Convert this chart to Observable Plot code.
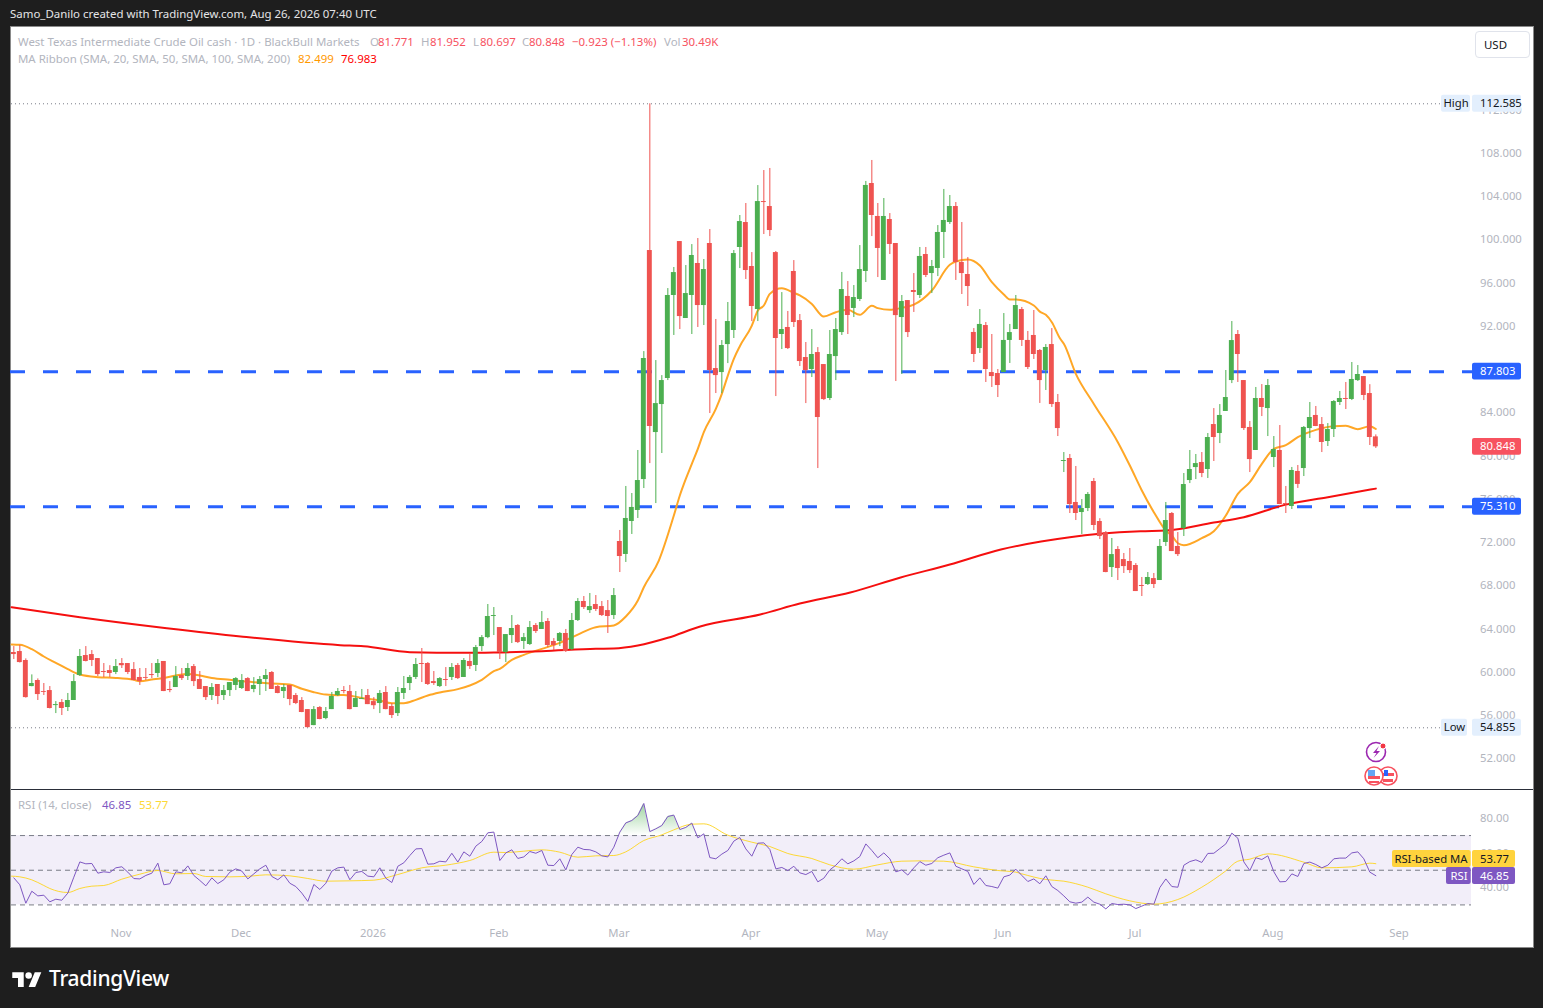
<!DOCTYPE html>
<html><head><meta charset="utf-8">
<script src="https://cdn.jsdelivr.net/npm/d3@7"></script>
<script src="https://cdn.jsdelivr.net/npm/@observablehq/plot@0.6"></script>
<style>
html,body{margin:0;padding:0;background:#1e1e1e;width:1543px;height:1008px;overflow:hidden;font-family:"Noto Sans",sans-serif}
#panel{position:absolute;left:10px;top:26px;width:1522px;height:920px;background:#fff;border:1px solid #8a8a8a}
.t{position:absolute;white-space:nowrap;font-size:11.45px;line-height:14px;color:#b2b5be}
.r{color:#f7525f}
svg{position:absolute;overflow:visible}
#main{position:absolute;left:11px;top:27px;width:1521px;height:762px}
#rsi{position:absolute;left:11px;top:790px;width:1521px;height:157px}
#sep{position:absolute;left:11px;top:789px;width:1522px;height:1px;background:#2a2e39}
</style></head><body>
<div id="panel"></div>
<div id="main"></div><div id="sep"></div><div id="rsi"></div>
<div class="t" style="left:10px;top:7px;color:#e4e4e6">Samo_Danilo created with TradingView.com, Aug 26, 2026 07:40 UTC</div>
<div class="t" style="left:18px;top:35px">West Texas Intermediate Crude Oil cash · 1D · BlackBull Markets</div>
<div class="t" style="left:370px;top:35px">O</div><div class="t r" style="left:378px;top:35px">81.771</div>
<div class="t" style="left:421px;top:35px">H</div><div class="t r" style="left:430px;top:35px">81.952</div>
<div class="t" style="left:473px;top:35px">L</div><div class="t r" style="left:480px;top:35px">80.697</div>
<div class="t" style="left:522px;top:35px">C</div><div class="t r" style="left:529px;top:35px">80.848</div>
<div class="t r" style="left:572px;top:35px">−0.923 (−1.13%)</div>
<div class="t" style="left:664px;top:35px">Vol</div><div class="t r" style="left:682px;top:35px">30.49K</div>
<div class="t" style="left:18px;top:52px">MA Ribbon (SMA, 20, SMA, 50, SMA, 100, SMA, 200)</div>
<div class="t" style="left:298px;top:52px;color:#ff9800">82.499</div>
<div class="t" style="left:341px;top:52px;color:#f00">76.983</div>
<div class="t" style="left:18px;top:798px">RSI (14, close)</div>
<div class="t" style="left:102px;top:798px;color:#7e57c2">46.85</div>
<div class="t" style="left:139px;top:798px;color:#fdd835">53.77</div>
<div class="t" style="left:1475px;top:31px;width:53px;height:25px;border:1px solid #e0e3eb;border-radius:4px;color:#131722;line-height:26px;box-sizing:content-box;text-indent:8px">USD</div>
<svg style="left:1360px;top:738px" width="42" height="50" viewBox="0 0 42 50">
 <circle cx="16" cy="14" r="9.5" fill="#fff" stroke="#9c27b0" stroke-width="1.6"/>
 <path d="M19 8l-6 7h3.5l-3 5 6.5-7h-3.5z" fill="#9c27b0"/><circle cx="23" cy="8" r="3" fill="#f23645" stroke="#fff"/>
 <g><circle cx="28" cy="38" r="9" fill="#fff" stroke="#f7525f" stroke-width="1.6"/><rect x="22" y="35" width="12" height="3" fill="#f7525f"/><rect x="23" y="41" width="10" height="3" fill="#f7525f"/><rect x="24" y="32" width="4" height="6" fill="#2962ff"/></g>
 <g><circle cx="14" cy="38" r="9" fill="#fff" stroke="#f7525f" stroke-width="1.6"/><rect x="8" y="38" width="12" height="3" fill="#f7525f"/><rect x="9" y="43" width="10" height="2" fill="#f7525f"/><rect x="8" y="32" width="7" height="6" fill="#64a5f5"/></g>
</svg>
<svg style="left:12px;top:969px" width="30" height="18" viewBox="0 0 36 22"><path fill="#fff" d="M14 22H7V11H0V4h14v18zM28 22h-8l7.5-18h8L28 22z"/><circle fill="#fff" cx="20" cy="8" r="4"/></svg>
<div style="position:absolute;left:49px;top:964px;font:500 21px/28px 'Noto Sans',sans-serif;color:#fff;letter-spacing:-.3px">TradingView</div>
<script>
// daily candles
const opens=[61.82,61.91,61.08,58.67,59.23,58.2,58.3,56.91,57.19,56.73,
57.38,59.69,61.54,61.63,61.26,60.06,60.15,59.97,60.8,60.8,
60.25,59.51,59.51,59.78,59.88,60.99,58.4,58.58,59.69,59.6,
60.52,59.32,58.67,57.84,58.86,57.84,58.3,58.77,58.49,59.41,
58.4,58.86,59.32,59.97,58.67,58.21,58.77,57.84,57.38,56.54,
55.06,56.73,55.71,56.54,57.84,58.3,58.21,56.73,57.47,57.84,
57.28,57.1,58.12,56.82,56.17,58.03,58.95,59.51,60.8,60.8,
59.13,58.67,59.32,59.51,60.62,59.51,60.99,60.62,62.37,63.2,
65.15,64.13,61.82,63.39,64.32,62.84,62.56,64.32,63.95,64.69,
62.84,62.84,63.58,62.1,64.78,66.54,65.7,66.26,66.07,65.7,
65.24,72.09,70.89,73.94,74.96,77.82,99.01,82.17,84.76,87.17,
94.85,99.84,92.72,94.85,97.81,93.92,99.66,88.09,87.72,90.31,
91.61,99.29,101.6,97.53,93.55,103.54,103.08,98.82,91.24,91.89,
97.07,92.53,89.11,88.0,89.57,88.46,85.32,89.2,91.42,94.76,
93.65,94.48,97.07,105.21,102.16,96.24,101.88,99.66,92.81,94.38,
95.31,94.85,98.64,96.88,97.35,100.68,101.6,103.08,97.9,96.79,
91.43,89.94,92.07,87.72,87.63,87.72,90.69,91.7,93.55,90.69,
91.15,89.76,87.91,90.31,84.95,79.49,79.77,75.7,74.77,75.14,
77.64,73.94,72.92,69.68,71.35,70.42,70.24,69.87,68.02,68.11,
68.66,68.48,72.0,74.68,71.63,73.29,77.73,78.93,79.4,78.75,
82.91,82.08,84.12,86.98,91.24,86.98,82.64,80.51,85.32,84.39,
79.86,80.51,75.6,75.33,78.57,78.84,82.54,83.75,82.91,81.34,
82.45,84.95,85.32,85.23,86.98,87.35,85.78,81.771];
const highs=[62.37,62.47,61.23,59.75,59.38,58.95,58.67,57.28,57.47,58.03,
59.78,62.1,62.37,62.0,61.26,60.8,60.6,61.17,61.26,60.8,
60.89,60.34,60.34,60.8,61.17,60.99,59.13,60.52,60.34,60.8,
60.71,60.06,58.67,58.95,58.86,58.77,59.04,59.5,59.78,59.5,
59.5,59.6,60.25,60.06,58.77,58.86,58.77,58.03,57.65,56.54,
56.82,56.82,56.73,58.12,58.49,58.67,58.77,58.21,58.4,58.4,
57.65,58.3,58.67,57.1,58.58,59.6,59.69,61.26,62.19,60.89,
60.06,59.5,60.43,60.8,60.8,61.26,61.63,62.47,63.39,66.26,
65.98,64.13,63.48,65.24,64.41,63.58,64.69,64.5,65.61,64.96,
63.11,63.67,63.95,65.43,66.81,67.0,67.28,67.09,66.54,66.63,
67.74,73.11,77.18,76.53,80.51,89.66,112.585,88.83,87.44,95.49,
97.44,99.84,97.62,99.56,100.12,98.18,100.95,92.63,90.68,94.2,
99.01,102.25,103.36,98.82,105.02,106.41,106.6,98.92,95.12,93.37,
98.08,93.09,90.5,91.7,90.03,88.46,91.61,92.72,96.98,96.14,
95.77,99.47,105.4,107.34,103.36,103.82,102.43,99.66,94.85,94.38,
96.88,99.29,99.29,98.09,101.32,104.66,104.1,103.45,101.6,98.36,
91.79,93.55,92.35,91.24,88.0,93.18,92.17,94.85,93.74,91.52,
93.46,89.85,90.31,91.79,85.69,80.32,80.14,79.03,75.97,76.62,
77.92,74.2,73.01,72.37,71.62,70.98,71.44,70.05,68.76,69.22,
69.13,72.27,75.7,74.77,72.92,78.38,80.51,80.14,80.32,82.08,
84.39,84.76,87.91,92.44,91.61,86.98,83.19,86.34,86.61,87.08,
81.8,82.82,77.18,78.94,79.12,82.73,84.95,84.58,83.56,83.0,
85.13,85.97,86.8,88.65,88.37,87.35,86.6,81.952];
const lows=[61.17,60.85,57.6,58.65,57.38,57.84,56.6,56.17,55.99,56.36,
57.38,59.6,60.95,60.52,59.6,59.5,59.5,59.78,60.34,59.78,
59.2,58.77,59.23,59.41,59.5,58.2,58.1,58.58,59.23,59.23,
58.67,58.4,57.38,57.38,57.0,57.38,57.75,58.3,58.4,58.2,
58.1,57.84,58.21,58.4,58.0,57.56,56.9,57.0,56.25,54.855,
55.05,55.6,55.6,56.54,57.75,58.0,56.52,56.73,57.47,57.0,
56.54,56.17,56.52,55.71,55.9,57.47,58.3,59.32,59.04,58.77,
58.77,58.58,58.67,59.23,59.32,59.51,60.25,60.06,61.91,63.1,
63.39,61.17,60.89,62.65,62.65,62.1,62.47,63.58,63.95,62.28,
62.0,62.37,61.82,62.0,64.69,65.8,65.43,65.61,65.15,63.58,
64.87,69.22,70.15,72.74,74.22,76.99,79.3,75.6,80.23,86.98,
91.15,91.7,92.72,91.24,91.89,92.07,83.93,85.78,85.78,88.55,
90.87,97.34,96.33,92.44,92.44,100.49,100.3,85.5,89.85,89.85,
91.89,88.28,84.85,87.26,78.84,85.13,85.13,86.98,91.15,91.24,
92.81,94.29,96.05,100.3,96.51,96.24,98.64,86.89,87.54,90.96,
93.28,94.57,96.51,95.03,96.6,98.27,101.42,96.24,94.94,93.83,
88.65,89.49,86.8,86.34,85.41,87.72,88.56,91.7,90.13,88.0,
88.93,84.86,86.06,84.49,81.8,78.47,74.68,74.03,72.74,74.86,
73.1,72.27,69.2,68.76,68.48,69.13,69.13,67.46,67.0,68.02,
67.74,68.48,71.63,71.16,70.7,72.55,77.45,77.82,78.0,77.92,
79.49,81.15,84.12,86.7,86.8,82.36,78.47,80.51,83.65,81.8,
78.93,75.5,74.68,75.05,77.0,78.1,81.62,82.72,80.32,80.88,
81.71,84.67,84.3,85.13,86.89,85.13,80.97,80.697];
const closes=[61.63,60.89,57.65,58.95,57.93,58.12,56.64,57.0,56.64,57.38,
59.13,61.45,60.99,61.08,59.78,59.97,59.88,60.52,60.6,59.97,
59.23,59.13,59.43,59.69,60.8,58.21,58.3,59.6,59.41,60.34,
59.13,58.4,57.65,58.58,57.75,58.3,59.04,59.41,59.23,58.21,
58.77,59.32,59.69,58.4,58.03,58.58,57.47,57.1,56.27,54.87,
56.54,55.62,56.36,57.75,58.21,58.21,56.54,57.56,57.56,57.0,
56.9,58.03,56.54,55.99,58.12,58.49,59.51,60.71,60.71,58.86,
58.95,59.41,59.23,60.43,59.41,61.08,60.52,62.28,63.2,65.15,
65.24,61.82,63.48,64.04,62.74,63.2,64.13,63.76,64.59,62.47,
62.47,63.58,61.91,64.78,66.54,65.98,66.07,65.8,65.24,65.15,
67.09,70.7,74.22,75.24,77.73,89.02,82.73,84.85,86.98,94.85,
96.97,92.9,95.03,98.55,93.92,97.25,87.91,87.44,90.22,92.44,
98.73,101.69,97.16,93.83,103.54,103.45,100.86,90.87,91.7,89.94,
92.35,88.74,87.91,89.39,83.56,85.22,89.39,91.7,95.4,93.0,
94.66,97.25,105.03,102.25,99.2,102.16,99.57,92.99,94.29,91.42,
95.13,98.46,96.7,97.53,100.68,101.79,103.08,97.9,96.88,95.68,
89.39,92.17,88.0,87.35,86.52,90.69,91.42,93.92,90.69,88.19,
89.39,86.98,90.04,84.76,82.54,79.58,75.51,74.68,75.14,76.44,
73.57,72.55,69.22,70.88,69.59,69.77,69.4,67.46,67.93,68.76,
68.11,71.63,74.03,71.16,70.88,77.36,78.75,79.3,78.38,81.71,
81.71,83.75,85.41,90.68,89.39,82.54,79.67,85.32,84.49,86.52,
80.6,75.51,75.51,78.66,77.37,82.64,83.56,82.73,81.25,82.45,
85.04,85.32,85.23,87.08,87.54,85.6,81.71,80.848];
// SMA 20 ribbon line: [candle index, price]
const ma20=[[-0.39,62.56],[1,62.53],[3,62.13],[5,61.45],[7,60.86],[9,60.28],[11,59.78],[14,59.54],[17,59.47],[20,59.29],[21,59.17],[23,59.32],[25,59.47],[27,59.69],[29,59.84],[31,59.69],[33,59.47],[36,59.29],[40,59.07],[44,58.92],[46,58.86],[48,58.46],[50,58.15],[52,57.93],[54,57.87],[55,57.9],[58,57.62],[61,57.38],[63,57.13],[65,57.13],[67,57.44],[69,57.84],[71,58.12],[74,58.43],[76,58.77],[78,59.29],[80,60.09],[81,60.31],[83,61.14],[85,61.6],[88,62.16],[91,62.71],[94,63.48],[97,64.16],[100,64.32],[102,65.15],[104,66.63],[105,67.86],[107.5,70.33],[110,74.49],[111,76.34],[112,77.88],[113,79.27],[114,80.66],[115,82.2],[117,84.36],[118,85.75],[119,87.44],[120,88.99],[121,90.16],[123,92.07],[124,93.46],[125,93.92],[126,95.0],[128,95.52],[130,95.09],[131,94.85],[133,94.07],[135,92.9],[137,93.3],[139,93.52],[141,93.06],[143,93.89],[144,93.68],[146,93.52],[148,93.71],[150,94.0],[153,95.31],[156,97.69],[157,97.99],[159,98.18],[161,97.62],[163,96.08],[165,94.94],[166,94.48],[167,94.48],[170,93.92],[171,93.36],[172,93.06],[173,92.38],[174.4,90.84],[175,90.38],[177,87.6],[180,84.82],[184,81.28],[186,79.12],[188,76.81],[190,74.8],[192,73.1],[193,72.64],[194,71.93],[195,71.75],[198,72.4],[200,73.04],[202,74.49],[204,76.5],[206,77.58],[208,79.27],[210,80.66],[212,81.0],[214,81.74],[217,82.42],[220,82.76],[222,82.79],[224,82.48],[226,82.76],[227,82.499]];
// SMA 200 ribbon line: [candle index, price]
const ma200=[[-0.39,66.01],[11,65.09],[25.5,64.07],[37.8,63.3],[54.4,62.5],[58.3,62.4],[66,61.85],[75,61.79],[80,61.82],[88,61.94],[97,62.16],[100,62.19],[104,62.47],[109,63.18],[114.4,64.23],[124.4,65.34],[131,66.35],[139.4,67.37],[147.8,68.76],[156,69.96],[164.5,71.35],[171.2,72.09],[176,72.49],[181,72.8],[187.8,73.04],[192,73.1],[200,73.85],[205,74.34],[212,75.5],[219,76.19],[227,76.983]];
const rsiValues=[45.6,41.6,31.0,37.9,35.2,35.6,31.8,33.3,32.7,36.8,
46.0,54.8,53.7,53.9,48.3,49.1,48.7,51.4,52.0,48.9,
45.2,45.0,47.0,48.3,54.1,41.6,42.2,49.1,48.5,52.5,
47.0,44.1,41.0,45.6,42.3,44.5,48.9,50.8,49.5,45.0,
47.9,50.8,52.9,46.4,44.5,47.3,42.5,40.6,36.8,32.0,
41.8,38.9,42.5,49.5,51.4,51.8,44.5,48.7,49.3,46.6,
46.2,51.4,45.4,42.9,52.3,54.3,58.5,62.3,62.5,53.5,
53.7,55.2,54.8,59.8,54.7,60.6,58.1,63.9,66.6,71.6,
72.0,55.6,60.0,61.8,56.8,57.7,60.8,59.8,61.4,52.9,
52.7,56.6,50.2,59.1,63.3,62.0,61.8,60.6,58.3,57.7,
63.3,72.0,77.3,78.7,81.6,88.5,72.3,73.9,75.8,81.0,
81.8,73.5,74.7,77.2,68.7,71.0,57.3,56.6,59.3,61.4,
66.8,68.9,62.3,58.1,65.6,65.8,62.0,50.8,51.6,49.8,
52.3,48.5,47.5,49.3,43.3,45.4,50.2,52.9,56.6,53.7,
55.4,57.9,65.2,61.4,57.2,60.0,56.6,49.1,50.2,47.2,
51.4,55.0,52.9,53.9,57.2,58.7,60.0,52.3,50.8,49.3,
41.8,45.6,41.2,40.6,39.7,46.2,47.2,50.6,47.0,43.5,
45.0,42.2,46.8,40.6,38.3,35.2,31.8,31.0,31.6,34.5,
31.6,30.4,27.7,30.8,30.2,30.4,30.0,27.9,29.3,30.8,
30.4,40.0,45.0,40.6,40.2,52.9,55.0,56.0,54.5,59.7,
59.8,62.5,65.2,71.4,68.5,54.8,49.8,57.2,56.2,58.3,
49.1,43.3,43.5,47.9,46.4,53.9,54.7,53.3,51.4,52.9,
56.6,57.0,57.0,60.0,60.6,56.6,48.9,46.85];
// RSI-based MA: [candle index, value]
const rsiMa=[[-0.39,46.6],[1,46.2],[3,44.46],[5,41.2],[6,39.47],[9,37.16],[11,39.47],[13,40.81],[15,41.2],[18,44.85],[21,47.73],[24,49.85],[27,47.93],[30,48.12],[32,46.39],[36,46.19],[40,46.77],[42,47.35],[46,46.77],[49,45.23],[52,43.69],[56,43.89],[60,44.27],[64,47.54],[68,51.39],[72,52.92],[76,55.62],[80,60.42],[82,60.23],[85,61.0],[88,61.77],[91,60.42],[94,57.54],[97,58.31],[100,58.5],[102,60.62],[105,67.15],[108,70.42],[110,73.31],[113,76.58],[115,76.77],[119,70.23],[123,66.19],[126,63.69],[129,59.65],[133,56.77],[136,53.12],[140,50.62],[144,53.12],[148,55.23],[151,55.42],[155,55.23],[160,51.96],[164,49.85],[167,48.89],[168,47.92],[172,44.65],[175,43.69],[179,40.23],[182,36.39],[186,32.35],[190,30.42],[194,33.12],[198,40.23],[202,49.65],[204,55.23],[206,56.39],[209,59.46],[215,54.65],[218,51.39],[223,51.96],[226,54.08],[227,53.77]];
const priceTicks=[112,108,104,100,96,92,84,80,76,72,68,64,60,56,52];
const rsiTicks=[80,60,40];
const rsiBands=[70,50,30];
const monthIdx=[18,38,60,81,101,123,144,165,187,210,231];
const monthLabels=["Nov","Dec","2026","Feb","Mar","Apr","May","Jun","Jul","Aug","Sep"];
const levels=[87.803,75.31];
const highValue=112.585, lowValue=54.855, lastValue=80.848;

const FONT='"Noto Sans",sans-serif';
const SZ="11.3px";
const GREEN="#4caf50", RED="#ef5350", BLUE="#2962ff";
const W=1521;
const idx=d3.range(opens.length);
const xd=[-0.388,253.11];
// screen pixel -> candle index, only used to place the right-hand price labels
const at=px=>(px-13.33)/6;
const col=i=>closes[i]>=opens[i]?GREEN:RED;

const axisFmt=d=>d.toFixed(3);
const pills=[
 {v:levels[0],f:BLUE,c:"#fff",t:levels[0].toFixed(3)},
 {v:levels[1],f:BLUE,c:"#fff",t:levels[1].toFixed(3)},
 {v:lastValue,f:"#f7525f",c:"#fff",t:lastValue.toFixed(3)},
 {v:highValue,f:"#e3effd",c:"#131722",t:highValue.toFixed(3)},
 {v:lowValue,f:"#e3effd",c:"#131722",t:lowValue.toFixed(3)}];
const tags=[{v:highValue,t:"High"},{v:lowValue,t:"Low"}];

const main=Plot.plot({
 width:W,height:762,margin:0,
 style:{fontFamily:FONT,fontSize:SZ,background:"transparent"},
 x:{domain:xd,range:[0,W],axis:null},
 y:{domain:[49.146,119.643],range:[762,0],axis:null},
 marks:[
  Plot.ruleY([highValue,lowValue],{x1:at(11),x2:at(1441),stroke:"#787b86",strokeWidth:1,strokeDasharray:"1,3"}),
  Plot.ruleY(levels,{x1:at(10),x2:at(1472),stroke:BLUE,strokeWidth:3,strokeDasharray:"15,18"}),
  Plot.line(ma20,{x:d=>d[0],y:d=>d[1],stroke:"#ffa726",strokeWidth:2,curve:"monotone-x"}),
  Plot.line(ma200,{x:d=>d[0],y:d=>d[1],stroke:"#f50f0f",strokeWidth:2,curve:"monotone-x"}),
  Plot.ruleX(idx,{x:i=>i,y1:i=>lows[i],y2:i=>highs[i],stroke:col,strokeWidth:1}),
  Plot.rect(idx,{x1:i=>i-0.41,x2:i=>i+0.41,y1:i=>opens[i],y2:i=>closes[i],fill:col}),
  Plot.text(priceTicks,{frameAnchor:"left",dx:1468.5,y:d=>d,text:axisFmt,textAnchor:"start",fill:"#b2b5be"}),
  Plot.rect(pills,{x1:at(1472),x2:at(1521),y1:d=>d.v-0.78,y2:d=>d.v+0.78,fill:"f",rx:2}),
  Plot.text(pills,{frameAnchor:"left",dx:1468.5,y:"v",text:"t",fill:"c",textAnchor:"start"}),
  Plot.rect(tags,{x1:at(1441),x2:d=>at(d.t=="High"?1470:1467),y1:d=>d.v-0.78,y2:d=>d.v+0.78,fill:"#e3effd",rx:2}),
  Plot.text(tags,{x:d=>at(d.t=="High"?1455.5:1454),y:"v",text:"t",fill:"#131722"})
 ]});
document.getElementById("main").append(main);

const obDefs=()=>{
 const s=document.createElementNS("http://www.w3.org/2000/svg","defs");
 s.innerHTML='<linearGradient id="ob" x1="0" y1="0" x2="0" y2="1"><stop offset="0" stop-color="#4caf50" stop-opacity=".55"/><stop offset="1" stop-color="#4caf50" stop-opacity="0"/></linearGradient>';
 return s;};
const rsiPills=[
 {y:56.48,f:"#ffd33d",c:"#131722",t:"53.77",l:"RSI-based MA",x0:1392},
 {y:46.67,f:"#7e57c2",c:"#fff",t:"46.85",l:"RSI",x0:1446}];
const rsi=Plot.plot({
 width:W,height:157,margin:0,
 style:{fontFamily:FONT,fontSize:SZ,background:"transparent"},
 x:{domain:xd,range:[0,W],axis:null},
 y:{domain:[5.43,96],range:[157,0],axis:null},
 marks:[
  obDefs,
  Plot.rect([0],{x1:at(11),x2:at(1471),y1:30,y2:70,fill:"#7e57c2",fillOpacity:.1}),
  Plot.ruleY(rsiBands,{x1:at(11),x2:at(1471),stroke:"#787b86",strokeWidth:1,strokeDasharray:"5,4"}),
  Plot.areaY(idx,{x:i=>i,y1:70,y2:i=>Math.max(70,rsiValues[i]),fill:"url(#ob)"}),
  Plot.line(rsiMa,{x:d=>d[0],y:d=>d[1],stroke:"#fdd835",strokeWidth:1,curve:"monotone-x"}),
  Plot.line(idx,{x:i=>i,y:i=>rsiValues[i],stroke:"#7e57c2",strokeWidth:1}),
  Plot.text(rsiTicks,{frameAnchor:"left",dx:1468.5,y:d=>d,text:d=>d.toFixed(2),textAnchor:"start",fill:"#b2b5be"}),
  Plot.rect(rsiPills,{x1:d=>at(d.x0),x2:at(1470.7),y1:d=>d.y-4.9,y2:d=>d.y+4.9,fill:"f",rx:2}),
  Plot.rect(rsiPills,{x1:at(1472),x2:at(1515),y1:d=>d.y-4.9,y2:d=>d.y+4.9,fill:"f",rx:2}),
  Plot.text(rsiPills,{x:at(1467),y:"y",text:"l",fill:"c",textAnchor:"end"}),
  Plot.text(rsiPills,{frameAnchor:"left",dx:1468.5,y:"y",text:"t",fill:"c",textAnchor:"start"}),
  Plot.text(monthIdx,{x:d=>d-0.15,frameAnchor:"bottom",dy:-11,text:(d,i)=>monthLabels[i],fill:"#b2b5be",fontWeight:(d,i)=>monthLabels[i]==="2026"?"700":"400"})
 ]});
document.getElementById("rsi").append(rsi);
</script>
</body></html>
